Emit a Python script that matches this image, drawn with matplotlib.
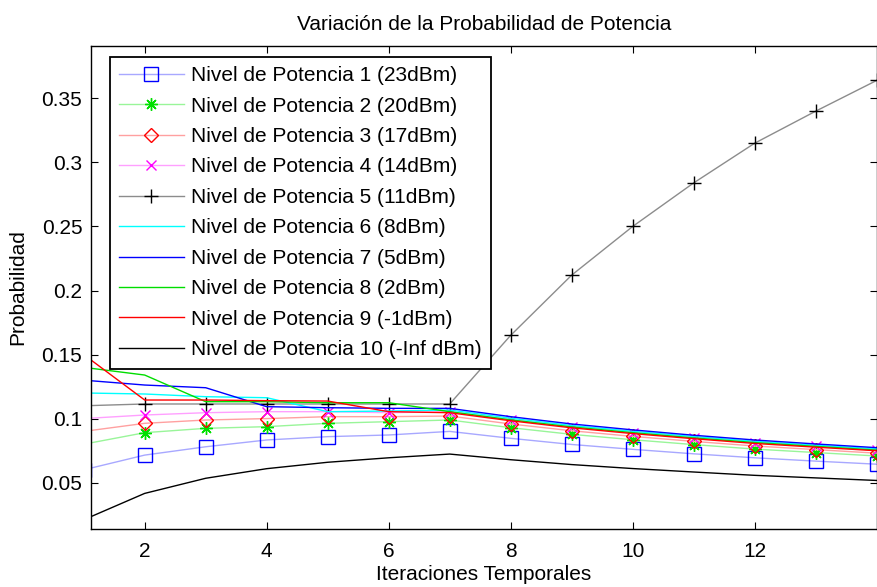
import matplotlib.pyplot as plt

plt.rcParams['font.family'] = ['Liberation Sans', 'DejaVu Sans']

# Iteraciones temporales
iteraciones = list(range(1, 15))

# Probabilidad de cada nivel de potencia
nivel1 = [0.060, 0.0715, 0.078, 0.0833, 0.0859, 0.0872, 0.090, 0.0846, 0.0798, 0.0760, 0.0725, 0.0694, 0.0668, 0.0644]
nivel2 = [0.080, 0.089, 0.0924, 0.0937, 0.0963, 0.0976, 0.0989, 0.0929, 0.0877, 0.0835, 0.0797, 0.0762, 0.0735, 0.0708]
nivel3 = [0.090, 0.0963, 0.0989, 0.100, 0.1015, 0.1015, 0.102, 0.0958, 0.0905, 0.0861, 0.0822, 0.0786, 0.0758, 0.0730]
nivel4 = [0.100, 0.1028, 0.1046, 0.1054, 0.1054, 0.1046, 0.1054, 0.0990, 0.0935, 0.0890, 0.0849, 0.0813, 0.0783, 0.0754]
nivel5 = [0.110, 0.1114, 0.1114, 0.1114, 0.1114, 0.1114, 0.1114, 0.165, 0.212, 0.250, 0.284, 0.315, 0.340, 0.364]
nivel6 = [0.120, 0.1192, 0.1171, 0.1163, 0.1054, 0.1059, 0.1067, 0.1003, 0.0946, 0.0901, 0.0860, 0.0823, 0.0792, 0.0764]
nivel7 = [0.130, 0.1262, 0.1241, 0.1093, 0.1085, 0.108, 0.108, 0.1015, 0.0958, 0.0912, 0.0870, 0.0833, 0.0802, 0.0773]
nivel8 = [0.140, 0.134, 0.1132, 0.1132, 0.1124, 0.1124, 0.1054, 0.0990, 0.0935, 0.0890, 0.0849, 0.0813, 0.0783, 0.0754]
nivel9 = [0.150, 0.1145, 0.1145, 0.1140, 0.1137, 0.1054, 0.1046, 0.0983, 0.0928, 0.0883, 0.0843, 0.0806, 0.0777, 0.0749]
nivel10 = [0.021, 0.0416, 0.0534, 0.0609, 0.0659, 0.0694, 0.0723, 0.0679, 0.0641, 0.0610, 0.0583, 0.0557, 0.0537, 0.0517]

etiquetas = ['Nivel de Potencia 1 (23dBm)', 'Nivel de Potencia 2 (20dBm)',
             'Nivel de Potencia 3 (17dBm)', 'Nivel de Potencia 4 (14dBm)',
             'Nivel de Potencia 5 (11dBm)', 'Nivel de Potencia 6 (8dBm)',
             'Nivel de Potencia 7 (5dBm)', 'Nivel de Potencia 8 (2dBm)',
             'Nivel de Potencia 9 (-1dBm)', 'Nivel de Potencia 10 (-Inf dBm)']

xticks = [2, 4, 6, 8, 10, 12]
yticks = [0.05, 0.1, 0.15, 0.2, 0.25, 0.3, 0.35]
ytick_labels = ['0.05', '0.1', '0.15', '0.2', '0.25', '0.3', '0.35']

series = [nivel1, nivel2, nivel3, nivel4, nivel5, nivel6, nivel7, nivel8, nivel9, nivel10]

# (color de linea, marcador, color de marcador)
estilos = [('#a8a8ff', 's', '#0000ff'),
           ('#99f599', (8, 2, 0), '#00e000'),
           ('#ffa0a0', 'D', '#ff0000'),
           ('#ffa0ff', 'x', '#ff00ff'),
           ('#8c8c8c', '+', '#000000'),
           ('#00ffff', None, None),
           ('#0000ff', None, None),
           ('#00dd00', None, None),
           ('#ff0000', None, None),
           ('#000000', None, None)]
tamanos = {'s': 9.5, 'D': 7.5, 'x': 7, '+': 10, (8, 2, 0): 9}

fs = 15

fig = plt.figure(figsize=(8.78, 5.87), dpi=100)
ax = fig.add_axes([0.1033, 0.0988, 0.8952, 0.8233])

for datos, etiqueta, (lc, mk, mc) in zip(series, etiquetas, estilos):
    if mk is None:
        ax.plot(iteraciones, datos, color=lc, lw=1.0, label=etiqueta)
    else:
        ax.plot(iteraciones, datos, color=lc, lw=1.0, marker=mk, ms=tamanos[mk],
                mfc='none', mec=mc, mew=1.0, label=etiqueta)

ax.set_xlim(1.115, 14.0)
ax.set_ylim(0.0138, 0.3911)
ax.set_xticks(xticks)
ax.set_yticks(yticks)
ax.set_yticklabels(ytick_labels)
ax.tick_params(direction='in', length=5, width=0.8, top=True, right=True,
               labelsize=fs, colors='black')
ax.tick_params(axis='x', pad=9)
ax.tick_params(axis='y', pad=6)
for s in ax.spines.values():
    s.set_linewidth(1.0)

ax.set_title('Variación de la Probabilidad de Potencia', fontsize=fs, pad=11)
ax.set_xlabel('Iteraciones Temporales', fontsize=fs, labelpad=3)
ax.set_ylabel('Probabilidad', fontsize=fs, labelpad=10)

leg = ax.legend(loc='upper left', bbox_to_anchor=(0.0242, 0.9772), borderaxespad=0,
                fontsize=fs, fancybox=False, framealpha=1, edgecolor='black',
                handlelength=3.1, handletextpad=0.36, labelspacing=0.55,
                borderpad=0.45, numpoints=1)
leg.get_frame().set_linewidth(1.3)

fig.savefig('out.png', dpi=100)
